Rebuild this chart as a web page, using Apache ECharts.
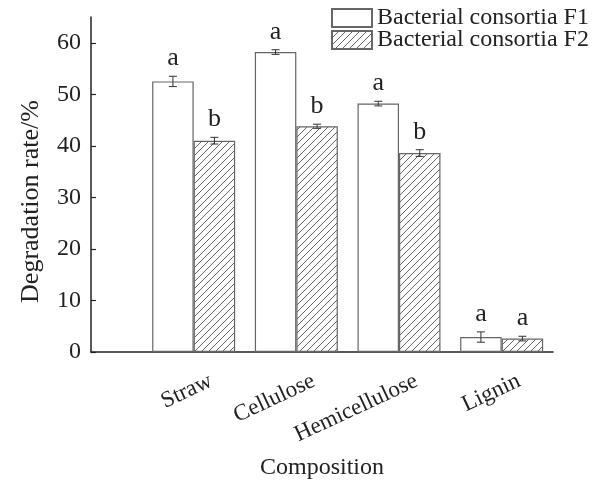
<!DOCTYPE html>
<html>
<head>
<meta charset="utf-8">
<script src="https://cdn.jsdelivr.net/npm/echarts@6/dist/echarts.min.js"></script>
<style>
html,body{margin:0;padding:0;background:#fff;}
#chart{width:605px;height:485px;}
</style>
</head>
<body>
<div id="chart"></div>
<script>
// ---- data ----
const categories = ['Straw', 'Cellulose', 'Hemicellulose', 'Lignin'];
const seriesNames = ['Bacterial consortia F1', 'Bacterial consortia F2'];
const valuesF1 = [52.5, 58.2, 48.2, 2.9];
const valuesF2 = [41.0, 43.8, 38.6, 2.6];
const errorsF1 = [1.0, 0.45, 0.45, 1.0];
const errorsF2 = [0.65, 0.4, 0.65, 0.45];
const lettersF1 = ['a', 'a', 'a', 'a'];
const lettersF2 = ['b', 'b', 'b', 'a'];
const yTicks = [0, 10, 20, 30, 40, 50, 60];
const xPositions = [1, 2, 3, 4];

// ---- styles ----
const FONT = '"Liberation Serif", "Times New Roman", serif';
const BAR_W = 41.5;
const LABEL_SHIFT = 0.17;

function makeHatch() {
  const c = document.createElement('canvas');
  const s = 7;
  c.width = s; c.height = s;
  const ctx = c.getContext('2d');
  ctx.fillStyle = '#fff';
  ctx.fillRect(0, 0, s, s);
  ctx.strokeStyle = '#666';
  ctx.lineWidth = 1;
  ctx.beginPath();
  ctx.moveTo(0, s); ctx.lineTo(s, 0);
  ctx.moveTo(-1, 1); ctx.lineTo(1, -1);
  ctx.moveTo(s - 1, s + 1); ctx.lineTo(s + 1, s - 1);
  ctx.stroke();
  return c;
}

const chart = echarts.init(document.getElementById('chart'), null, {renderer: 'canvas'});

function errSeries(vals, errs, letters, sign) {
  return {
    type: 'custom',
    silent: true,
    z: 5,
    data: xPositions.map((x, i) => [x, vals[i], errs[i]]),
    encode: {x: 0, y: 1},
    renderItem: function (params, api) {
      const x = api.value(0), v = api.value(1), e = api.value(2);
      const letter = letters[params.dataIndex];
      const top = api.coord([x, v + e]);
      const bot = api.coord([x, v - e]);
      const cx = top[0] + sign * BAR_W / 2;
      const cap = 4;
      const st = {stroke: '#333', lineWidth: 1};
      return {
        type: 'group',
        children: [
          {type: 'line', shape: {x1: cx, y1: top[1], x2: cx, y2: bot[1]}, style: st},
          {type: 'line', shape: {x1: cx - cap, y1: top[1], x2: cx + cap, y2: top[1]}, style: st},
          {type: 'line', shape: {x1: cx - cap, y1: bot[1], x2: cx + cap, y2: bot[1]}, style: st},
          {type: 'text', style: {x: cx, y: top[1] - 5, text: letter, font: '26px ' + FONT, fill: '#222', textAlign: 'center', textVerticalAlign: 'bottom'}}
        ]
      };
    }
  };
}

const option = {
  backgroundColor: '#fff',
  animation: false,
  textStyle: {fontFamily: FONT},
  legend: {
    orient: 'vertical',
    left: 326,
    top: 1,
    icon: 'rect',
    itemWidth: 40,
    itemHeight: 18,
    itemGap: -2,
    data: seriesNames,
    textStyle: {fontFamily: FONT, fontSize: 24, color: '#222'}
  },
  grid: {left: 91, right: 52, top: 17, bottom: 129, containLabel: false},
  xAxis: {
    type: 'value',
    min: 0,
    max: 4.5,
    name: 'Composition',
    nameLocation: 'middle',
    nameGap: 104,
    nameTextStyle: {fontFamily: FONT, fontSize: 24, color: '#222'},
    axisLine: {show: true, lineStyle: {color: '#222', width: 1.5}},
    axisTick: {show: false},
    splitLine: {show: false},
    axisLabel: {
      customValues: xPositions.map(x => x + LABEL_SHIFT),
      formatter: v => categories[Math.round(v - LABEL_SHIFT) - 1] || '',
      rotate: 25,
      margin: 28,
      fontFamily: FONT, fontSize: 23, color: '#222'
    }
  },
  yAxis: {
    type: 'value',
    min: 0,
    max: 65,
    name: 'Degradation rate/%',
    nameLocation: 'middle',
    nameGap: 47,
    nameTextStyle: {fontFamily: FONT, fontSize: 26, color: '#222', padding: [0, 34, 0, 0]},
    axisLine: {show: true, lineStyle: {color: '#222', width: 1.5}},
    axisTick: {show: true, inside: true, length: 5, customValues: yTicks, lineStyle: {color: '#222', width: 1.2}},
    splitLine: {show: false},
    axisLabel: {customValues: yTicks, margin: 10, fontFamily: FONT, fontSize: 24, color: '#222'}
  },
  series: [
    {
      name: seriesNames[0],
      type: 'bar',
      barWidth: BAR_W,
      barGap: '0%',
      data: xPositions.map((x, i) => [x, valuesF1[i]]),
      itemStyle: {color: '#fff', borderColor: '#666', borderWidth: 1.2}
    },
    {
      name: seriesNames[1],
      type: 'bar',
      barWidth: BAR_W,
      barGap: '0%',
      data: xPositions.map((x, i) => [x, valuesF2[i]]),
      itemStyle: {color: {image: makeHatch(), repeat: 'repeat'}, borderColor: '#666', borderWidth: 1.2}
    },
    errSeries(valuesF1, errorsF1, lettersF1, -1),
    errSeries(valuesF2, errorsF2, lettersF2, 1)
  ]
};
chart.setOption(option);
</script>
</body>
</html>
